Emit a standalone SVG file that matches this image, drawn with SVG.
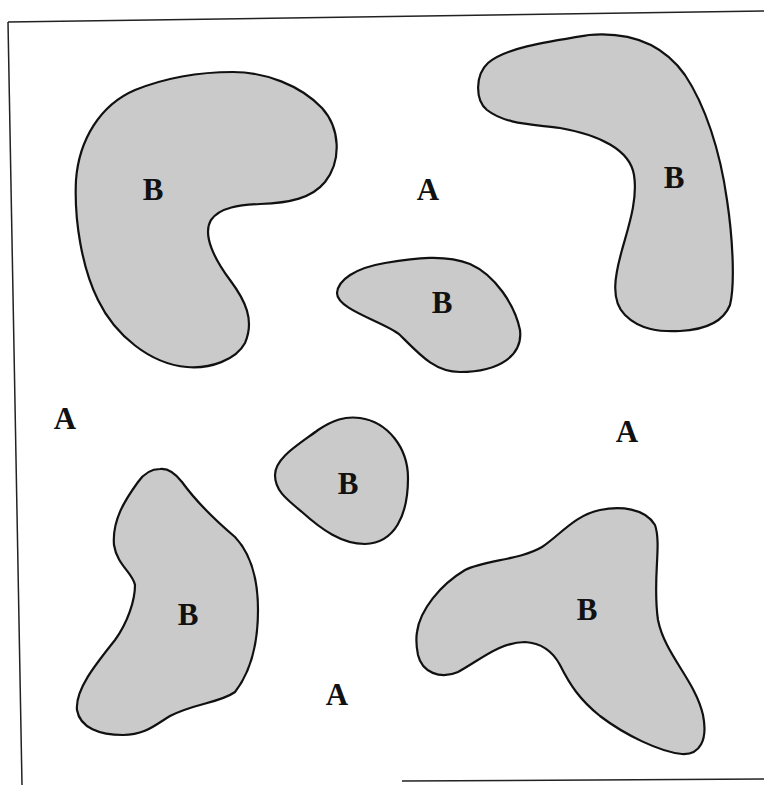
<svg xmlns="http://www.w3.org/2000/svg" width="764" height="785" viewBox="0 0 764 785">
<style>
.blob{fill:#cacaca;stroke:#111;stroke-width:2.2;stroke-linejoin:round}
.lbl{font-family:"Liberation Serif","Times New Roman",serif;font-weight:bold;font-size:31px;fill:#111;text-anchor:middle}
.frame{stroke:#222;stroke-width:1.5;fill:none}
</style>
<rect width="764" height="785" fill="#fff"/>
<g id="frame">
<line class="frame" x1="8" y1="22" x2="764" y2="11"/>
<line class="frame" x1="8" y1="22" x2="22" y2="785"/>
<line class="frame" x1="402" y1="781" x2="764" y2="779"/>
</g>
<g id="blob1">
<path class="blob" d="M233,72 C265,72 300,85 322,108 C340,128 342,160 325,182 C312,198 290,203 260,204 C240,205 220,207 211,220 C202,235 215,260 230,280 C245,300 255,320 245,343 C236,360 210,369 187,367 C150,364 115,335 98,300 C82,268 74,220 76,180 C79,140 100,105 135,90 C165,78 200,72 233,72 Z"/>
<text class="lbl" x="153" y="200">B</text>
</g>
<g id="blob2">
<path class="blob" d="M589,35 C625,32 660,40 685,75 C705,105 720,150 727,200 C733,240 735,285 730,305 C722,325 700,330 680,331 C660,332 640,330 625,315 C610,300 615,275 622,250 C628,228 638,200 634,175 C630,150 600,135 560,128 C530,124 505,124 487,110 C475,100 475,75 488,63 C505,48 545,42 589,35 Z"/>
<text class="lbl" x="674" y="188">B</text>
</g>
<g id="blob3">
<path class="blob" d="M337,293 C338,280 355,268 385,263 C415,258 445,254 470,264 C495,275 515,305 520,330 C523,355 500,372 460,372 C435,372 420,355 400,335 C385,322 337,310 337,293 Z"/>
<text class="lbl" x="442" y="313">B</text>
</g>
<g id="blob4">
<path class="blob" d="M275,475 C275,458 298,445 318,430 C333,420 345,416 360,418 C388,422 408,448 408,478 C408,515 395,543 365,544 C342,544 322,530 302,512 C285,498 275,490 275,475 Z"/>
<text class="lbl" x="348" y="494">B</text>
</g>
<g id="blob5">
<path class="blob" d="M160,469 C168,468 175,473 182,482 C195,500 215,520 235,537 C252,555 258,580 258,610 C258,640 252,670 235,692 C220,703 195,703 170,716 C155,725 145,735 123,735 C100,735 80,728 77,710 C75,690 95,665 115,640 C128,622 135,600 135,585 C133,573 117,565 114,545 C112,520 125,500 138,482 C145,472 152,469 160,469 Z"/>
<text class="lbl" x="188" y="625">B</text>
</g>
<g id="blob6">
<path class="blob" d="M417,632 C420,610 440,585 465,570 C485,560 520,560 542,547 C560,535 575,515 600,510 C620,506 645,508 655,525 C662,545 652,580 658,620 C665,655 695,680 703,715 C708,740 700,755 682,754 C660,752 625,735 600,716 C580,700 570,685 560,665 C552,650 540,643 525,642 C500,642 480,660 458,672 C440,680 422,672 418,655 C416,645 416,638 417,632 Z"/>
<text class="lbl" x="587" y="620">B</text>
</g>
<g id="regionA">
<text class="lbl" x="428" y="200">A</text>
<text class="lbl" x="65" y="429">A</text>
<text class="lbl" x="627" y="442">A</text>
<text class="lbl" x="337" y="705">A</text>
</g>
</svg>
